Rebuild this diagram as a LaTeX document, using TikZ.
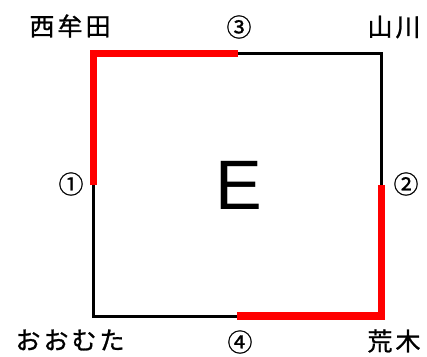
\documentclass[tikz,border=0pt]{standalone}
\usepackage{fontspec}
\newfontfamily\jpfont[LetterSpace=12,FakeBold=1]{Noto Sans CJK JP}
\newfontfamily\numfont[FakeBold=0.8]{Noto Sans CJK JP}
\newfontfamily\efont{Liberation Sans}
\begin{document}
\begin{tikzpicture}[x=1pt,y=-1pt,
  edge/.style={line width=3pt,black},
  redseg/.style={line width=7.5pt,red,line join=miter,line cap=butt},
  place/.style={inner sep=0pt,font=\jpfont\fontsize{25}{25}\selectfont},
  num/.style={inner sep=0pt,font=\numfont\fontsize{25}{25}\selectfont},
  big/.style={inner sep=0pt,font=\efont\fontsize{70}{70}\selectfont}]
\useasboundingbox[fill=white] (0,0) rectangle (427,356);
\coordinate (tl) at (93.5,53.5);
\coordinate (tr) at (381.5,53.5);
\coordinate (br) at (381.5,316);
\coordinate (bl) at (93.5,316);
\coordinate (lm) at (93.5,185);
\coordinate (rm) at (381.5,185);
\coordinate (tm) at (237.7,53.5);
\coordinate (bm) at (236.7,316);
\draw[edge] (tl) -- (tr) -- (br) -- (bl) -- cycle;
\draw[redseg] (lm) -- (tl) -- (tm);
\draw[redseg] (rm) -- (br) -- (bm);
\node[place] (nishi) at (70,26) {西牟田};
\node[place] (yama) at (394,27) {山川};
\node[place] (oomuta) at (70,340) {おおむた};
\node[place] (araki) at (394,341) {荒木};
\node[num] (n1) at (71,184) {①};
\node[num] (n2) at (406,184) {②};
\node[num] (n3) at (239,27) {③};
\node[num] (n4) at (240,342) {④};
\node[big] (e) at (239,185) {E};
\end{tikzpicture}
\end{document}
